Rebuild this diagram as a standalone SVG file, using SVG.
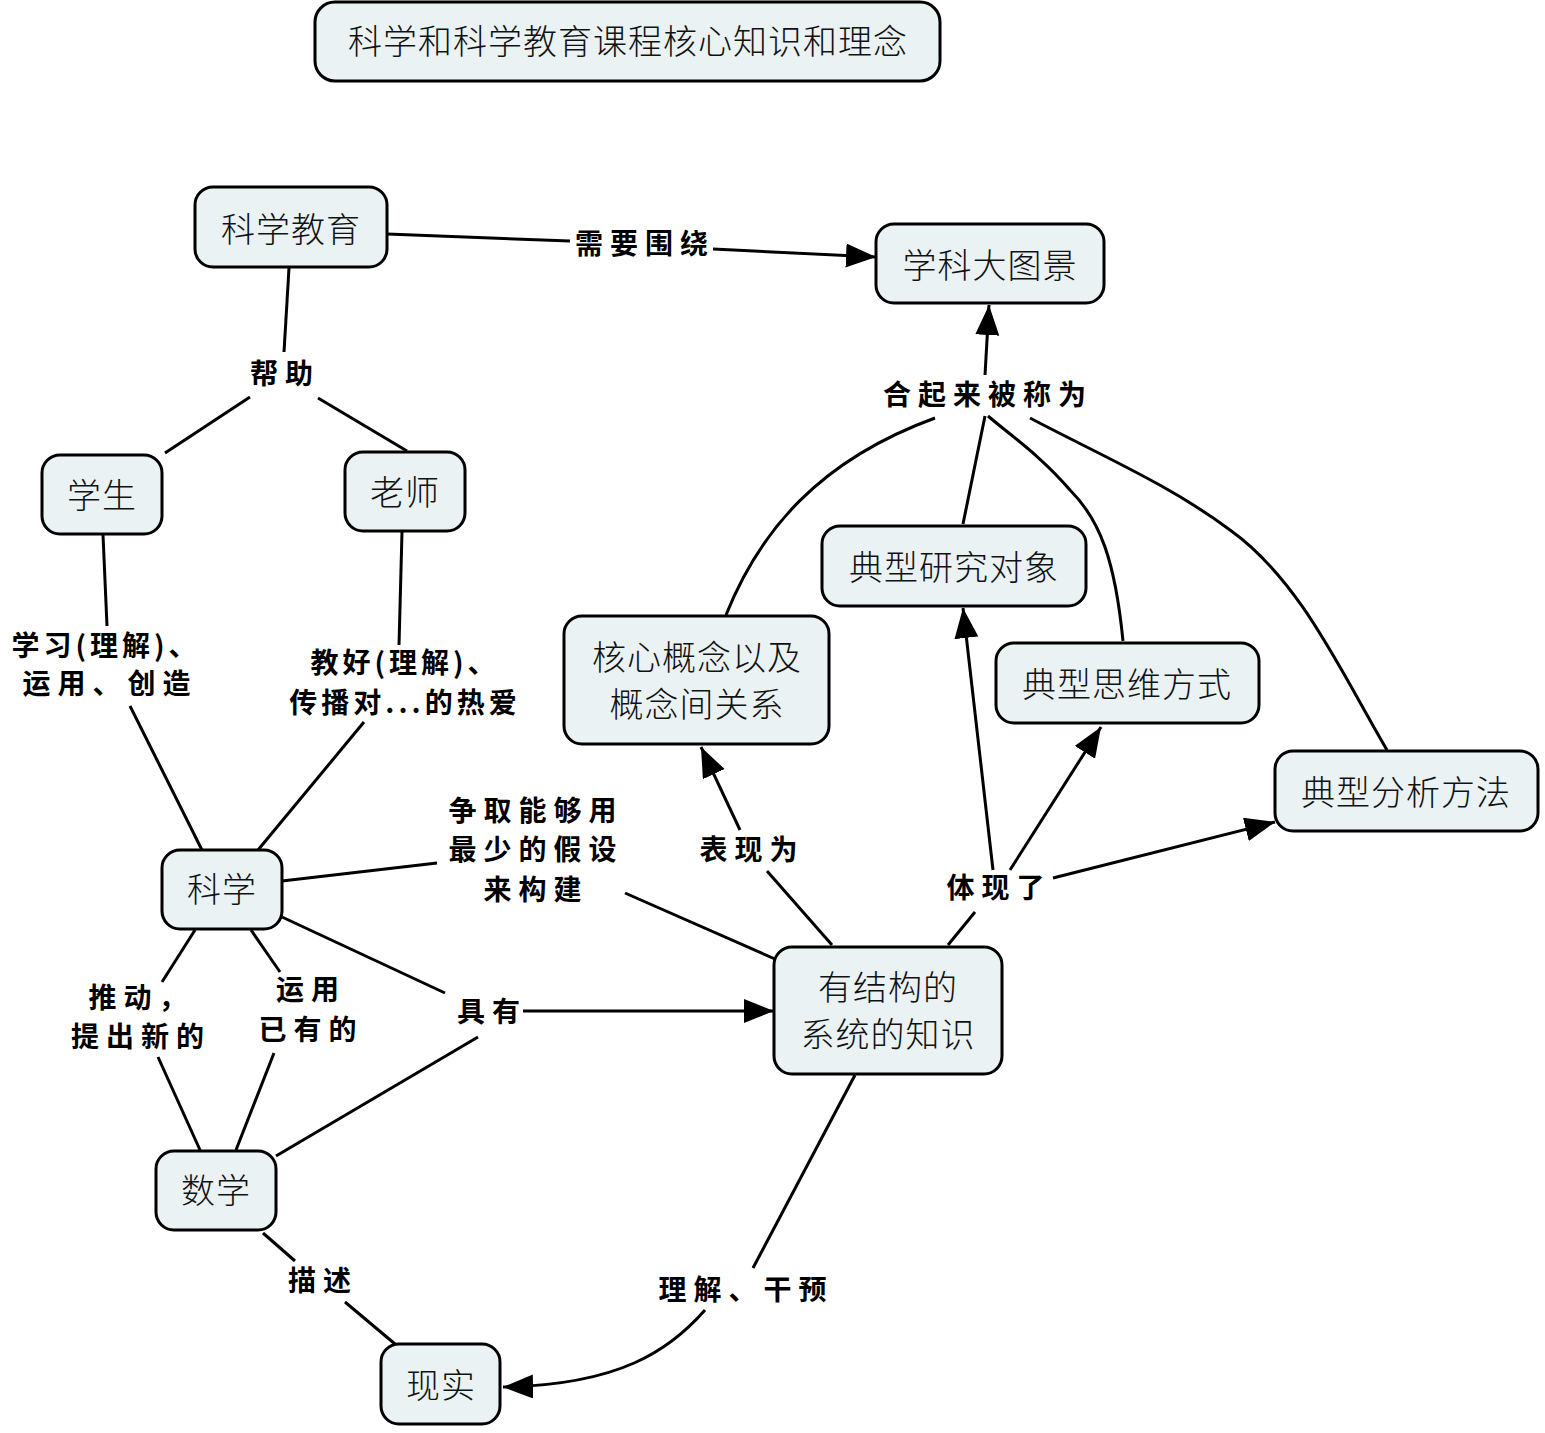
<svg xmlns="http://www.w3.org/2000/svg" width="1545" height="1433" viewBox="0 0 1545 1433">
<style>
.n rect{fill:#EAF2F4;stroke:#000;stroke-width:3}
.n text{font-family:"Noto Sans CJK SC","Noto Sans",sans-serif;font-size:34px;font-weight:300;fill:#111;text-anchor:middle;letter-spacing:1px}
.c path{fill:none;stroke:#000;stroke-width:3}
.l text{font-family:"Noto Sans CJK SC","Noto Sans",sans-serif;font-size:28px;font-weight:700;fill:#000;text-anchor:middle;letter-spacing:7px}
.l text.p{letter-spacing:4px}
</style>
<defs>
<marker id="a" markerUnits="userSpaceOnUse" markerWidth="32" markerHeight="26" refX="30" refY="12" orient="auto"><path d="M0,0 L30,12 L0,24 z" fill="#000"/></marker>
</defs>
<rect width="1545" height="1433" fill="#fff"/>
<g class="c">
<path d="M387,234 L570,241"/><path d="M713,249 L876,257" marker-end="url(#a)"/>
<path d="M289,268 L284,352"/><path d="M250,397 L165,453"/><path d="M318,398 L407,451"/>
<path d="M103,535 L107,626"/><path d="M130,706 L202,850"/>
<path d="M402,532 L399,645"/><path d="M364,722 L258,850"/>
<path d="M282,881 L437,863"/><path d="M625,893 L775,959"/>
<path d="M282,917 L445,993"/><path d="M523,1011 L774,1011" marker-end="url(#a)"/>
<path d="M276,1156 L478,1037"/>
<path d="M195,930 L162,982"/><path d="M158,1057 L200,1150"/>
<path d="M251,930 L280,972"/><path d="M274,1053 L236,1150"/>
<path d="M263,1233 L295,1261"/><path d="M345,1302 L395,1344"/>
<path d="M855,1075 L753,1268"/><path d="M705,1310 C670,1350 620,1385 503,1387" marker-end="url(#a)"/>
<path d="M832,945 L767,871"/><path d="M740,830 L701,747" marker-end="url(#a)"/>
<path d="M948,945 L975,912"/><path d="M993,870 L963,608" marker-end="url(#a)"/><path d="M1010,870 L1101,727" marker-end="url(#a)"/><path d="M1053,878 L1275,822" marker-end="url(#a)"/>
<path d="M985,375 L989,305" marker-end="url(#a)"/>
<path d="M726,615 C760,530 820,460 935,418"/>
<path d="M963,524 L985,416"/>
<path d="M1123,641 C1115,560 1100,520 1070,490 C1040,455 1010,435 988,416"/>
<path d="M1387,750 C1340,670 1300,580 1230,530 C1170,485 1100,455 1030,418"/>
</g>
<g class="l">
<text x="645" y="254">需要围绕</text>
<text x="285" y="384">帮助</text>
<text class="p" x="106" y="656">学习(理解)、</text>
<text x="110" y="694">运用、创造</text>
<text class="p" x="405" y="673">教好(理解)、</text>
<text class="p" x="405" y="713">传播对...的热爱</text>
<text x="536" y="821">争取能够用</text>
<text x="536" y="860">最少的假设</text>
<text x="536" y="900">来构建</text>
<text x="492" y="1022">具有</text>
<text x="141" y="1008">推动，</text>
<text x="141" y="1047">提出新的</text>
<text x="311" y="1000">运用</text>
<text x="311" y="1040">已有的</text>
<text x="323" y="1291">描述</text>
<text x="746" y="1300">理解、干预</text>
<text x="752" y="860">表现为</text>
<text x="999" y="898">体现了</text>
<text x="988" y="405">合起来被称为</text>
</g>
<g id="title" class="n"><rect x="315" y="2" width="625" height="79" rx="20"/><text x="628" y="54">科学和科学教育课程核心知识和理念</text></g>
<g id="kxjy" class="n"><rect x="195" y="187" width="192" height="80" rx="18"/><text x="291" y="242">科学教育</text></g>
<g id="xkdtj" class="n"><rect x="876" y="224" width="228" height="79" rx="18"/><text x="990" y="278">学科大图景</text></g>
<g id="xs" class="n"><rect x="42" y="455" width="120" height="79" rx="18"/><text x="102" y="508">学生</text></g>
<g id="ls" class="n"><rect x="345" y="452" width="120" height="79" rx="18"/><text x="405" y="505">老师</text></g>
<g id="dxyjdx" class="n"><rect x="822" y="526" width="264" height="80" rx="18"/><text x="954" y="580">典型研究对象</text></g>
<g id="hxgn" class="n"><rect x="564" y="616" width="265" height="128" rx="18"/><text x="697" y="670">核心概念以及</text><text x="697" y="717">概念间关系</text></g>
<g id="dxswfs" class="n"><rect x="996" y="643" width="263" height="80" rx="18"/><text x="1127" y="697">典型思维方式</text></g>
<g id="dxfxff" class="n"><rect x="1275" y="751" width="263" height="80" rx="18"/><text x="1406" y="805">典型分析方法</text></g>
<g id="kx" class="n"><rect x="162" y="850" width="120" height="79" rx="18"/><text x="222" y="902">科学</text></g>
<g id="zs" class="n"><rect x="774" y="947" width="228" height="127" rx="18"/><text x="888" y="1000">有结构的</text><text x="888" y="1047">系统的知识</text></g>
<g id="sx" class="n"><rect x="156" y="1151" width="120" height="79" rx="18"/><text x="216" y="1203">数学</text></g>
<g id="xsh" class="n"><rect x="381" y="1344" width="119" height="80" rx="18"/><text x="441" y="1398">现实</text></g>
</svg>
